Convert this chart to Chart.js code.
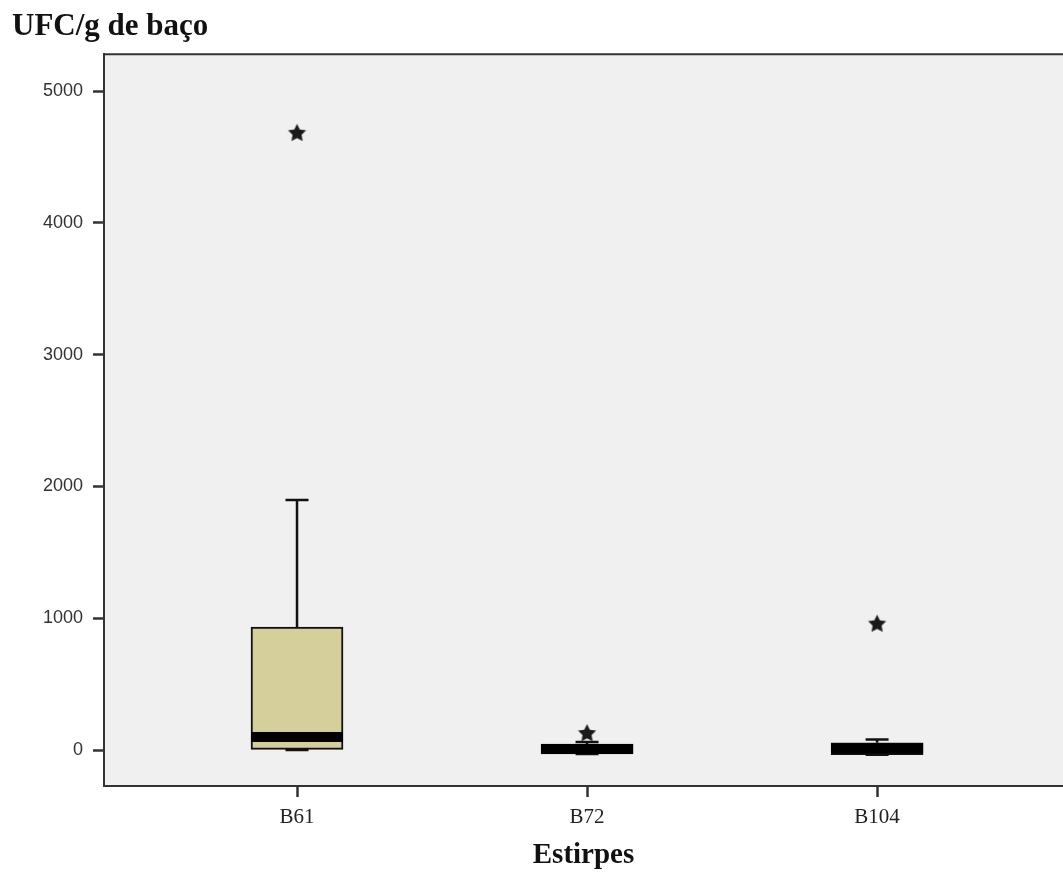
<!DOCTYPE html>
<html>
<head>
<meta charset="utf-8">
<title>UFC/g de baço</title>
<script src="https://cdn.jsdelivr.net/npm/chart.js@4.4.1/dist/chart.umd.min.js"></script>
<style>
  html, body { margin: 0; padding: 0; background: #fff; }
</style>
</head>
<body>
<canvas id="chart" width="1063" height="877"></canvas>
<script>
// Boxplot summary (UFC/g)
const strains      = ['B61', 'B72', 'B104'];
const strainPos    = [1, 2, 3];
const whiskerLow   = [0, -30, -35];
const quartile1    = [5, -30, -35];
const medians      = [99, 8, 12];
const quartile3    = [933, 45, 55];
const whiskerHigh  = [1897, 60, 80];
const outliers     = [[4681], [125], [956]];
const yTicks       = [0, 1000, 2000, 3000, 4000, 5000];

const AXIS_COLOR = '#333';
const BOX_FILL   = '#d4cf9b';

function makeStar(r) {
  const size = Math.ceil(r * 2 + 2);
  const c = document.createElement('canvas');
  c.width = c.height = size;
  const g = c.getContext('2d');
  g.fillStyle = '#1a1a1a';
  g.beginPath();
  for (let i = 0; i < 10; i++) {
    const a = -Math.PI / 2 + i * Math.PI / 5;
    const rad = i % 2 ? r * 0.5 : r;
    const px = size / 2 + Math.cos(a) * rad;
    const py = size / 2 + Math.sin(a) * rad;
    i ? g.lineTo(px, py) : g.moveTo(px, py);
  }
  g.closePath();
  g.fill();
  return c;
}

const plotFrame = {
  id: 'plotFrame',
  beforeDraw(chart) {
    const { ctx, chartArea: a } = chart;
    ctx.save();
    ctx.fillStyle = '#fff';
    ctx.fillRect(0, 0, chart.width, chart.height);
    ctx.fillStyle = '#f0f0f0';
    ctx.fillRect(a.left, a.top, a.right - a.left, a.bottom - a.top);
    ctx.restore();
  },
  afterDraw(chart) {
    const { ctx, chartArea: a } = chart;
    ctx.save();
    ctx.strokeStyle = AXIS_COLOR;
    ctx.lineWidth = 2;
    ctx.beginPath();
    ctx.moveTo(a.left, a.top);
    ctx.lineTo(a.right, a.top);
    ctx.stroke();
    ctx.restore();
  },
};

// whiskers + medians on top of the floating-bar boxes
const boxParts = {
  id: 'boxParts',
  afterDatasetsDraw(chart) {
    const { ctx } = chart;
    const y = chart.scales.y;
    const meta = chart.getDatasetMeta(0);
    ctx.save();
    ctx.strokeStyle = '#111';
    ctx.fillStyle = '#000';
    ctx.lineWidth = 2.5;
    meta.data.forEach((bar, i) => {
      const x = bar.x;
      const capHalf = 11.5;
      const yHi = y.getPixelForValue(whiskerHigh[i]);
      const yLo = y.getPixelForValue(whiskerLow[i]);
      const yQ3 = y.getPixelForValue(quartile3[i]);
      const yQ1 = y.getPixelForValue(quartile1[i]);
      ctx.beginPath();
      ctx.moveTo(x, yQ3); ctx.lineTo(x, yHi);
      ctx.moveTo(x - capHalf, yHi); ctx.lineTo(x + capHalf, yHi);
      ctx.moveTo(x, yQ1); ctx.lineTo(x, yLo);
      ctx.moveTo(x - capHalf, yLo); ctx.lineTo(x + capHalf, yLo);
      ctx.stroke();
      const yMed = y.getPixelForValue(medians[i]);
      ctx.fillRect(x - bar.width / 2, yMed - 5, bar.width, 10);
    });
    ctx.restore();
  },
};

const outlierPoints = [];
outliers.forEach((vals, i) => vals.forEach(v => outlierPoints.push({ x: strainPos[i], y: v })));

new Chart(document.getElementById('chart'), {
  type: 'bar',
  data: {
    datasets: [
      {
        label: 'Caixa',
        data: strains.map((s, i) => ({ x: strainPos[i], y: [quartile1[i], quartile3[i]] })),
        backgroundColor: BOX_FILL,
        borderColor: '#111',
        borderWidth: 2,
        borderSkipped: false,
        barThickness: 92,
        order: 2,
      },
      {
        type: 'scatter',
        label: 'Outliers',
        data: outlierPoints,
        pointStyle: makeStar(9.5),
        order: 1,
      },
    ],
  },
  options: {
    responsive: false,
    animation: false,
    layout: { autoPadding: false, padding: { left: 12, right: 0, top: 0, bottom: 0 } },
    plugins: {
      legend: { display: false },
      tooltip: { enabled: false },
      title: {
        display: true,
        text: 'UFC/g de baço',
        align: 'start',
        color: '#111',
        font: { family: 'Liberation Serif', size: 31, weight: 'bold' },
        padding: { top: 8, bottom: 9 },
      },
    },
    scales: {
      x: {
        type: 'linear',
        offset: false,
        min: 0.3345,
        max: 3.641,
        afterBuildTicks: s => { s.ticks = strainPos.map(v => ({ value: v })); },
        afterFit: s => { s.height = 91; },
        ticks: {
          callback: (v, i) => strains[i],
          color: '#222',
          padding: 8,
          font: { family: 'Liberation Serif', size: 21 },
        },
        grid: { offset: false, drawOnChartArea: false, drawTicks: true, tickLength: 11, tickWidth: 2.5, tickColor: AXIS_COLOR },
        border: { display: true, color: AXIS_COLOR, width: 2 },
        title: {
          display: true,
          text: 'Estirpes',
          color: '#111',
          font: { family: 'Liberation Serif', size: 29, weight: 'bold' },
          padding: { top: 0, bottom: 4 },
        },
      },
      y: {
        min: -273,
        max: 5281,
        afterBuildTicks: s => { s.ticks = yTicks.map(v => ({ value: v })); },
        afterFit: s => { s.width = 92; },
        ticks: {
          callback: v => String(v),
          color: '#333',
          padding: 10,
          font: { family: 'Liberation Sans', size: 18 },
        },
        grid: { drawOnChartArea: false, drawTicks: true, tickLength: 11, tickWidth: 2.5, tickColor: AXIS_COLOR },
        border: { display: true, color: AXIS_COLOR, width: 2 },
      },
    },
  },
  plugins: [plotFrame, boxParts],
});
</script>
</body>
</html>
